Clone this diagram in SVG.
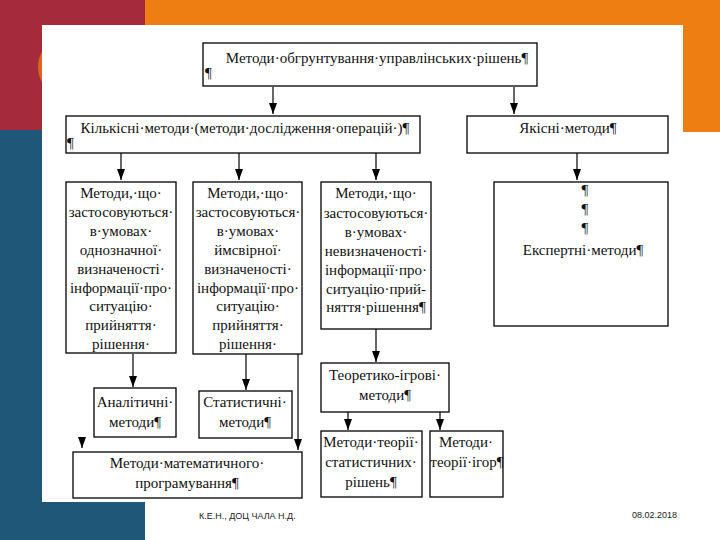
<svg xmlns="http://www.w3.org/2000/svg" width="720" height="540" viewBox="0 0 720 540">
<style>
.box{fill:#fff;stroke:#000;stroke-width:1.3}
.t{font-family:"Liberation Serif","DejaVu Serif",serif;font-size:15px;fill:#111;text-anchor:middle}
.tl{font-family:"Liberation Serif","DejaVu Serif",serif;font-size:15px;fill:#111}
.c{stroke:#000;stroke-width:1.2;fill:none}
.ft{font-family:"Liberation Sans","DejaVu Sans",sans-serif;font-size:9px;fill:#222}
</style>
<defs>
<marker id="ah" markerWidth="11" markerHeight="8" refX="11" refY="4" orient="auto" markerUnits="userSpaceOnUse" viewBox="0 0 11 8">
<path d="M0,0 L11,4 L0,8 Z" fill="#000"/>
</marker>
</defs>
<g id="background">
<rect x="0" y="0" width="720" height="540" fill="#fff"/>
<rect x="0" y="0" width="145" height="130" fill="#A52A3C"/>
<rect x="145" y="0" width="575" height="132" fill="#EE7D12"/>
<rect x="0" y="130" width="145" height="410" fill="#1F5779"/>
<path d="M44,52 A30,30 0 0 0 44,82" fill="none" stroke="#EE7D12" stroke-width="4" opacity="0.7"/>
<rect x="42" y="25" width="641" height="477" fill="#fff"/>
</g>
<g id="connectors">
<path class="c" d="M273,87 V114" marker-end="url(#ah)"/>
<path class="c" d="M514,87 V114" marker-end="url(#ah)"/>
<path class="c" d="M121,153 V180" marker-end="url(#ah)"/>
<path class="c" d="M239,153 V180" marker-end="url(#ah)"/>
<path class="c" d="M376,153 V180" marker-end="url(#ah)"/>
<path class="c" d="M577,153 V180" marker-end="url(#ah)"/>
<path class="c" d="M376,329 V362" marker-end="url(#ah)"/>
<path class="c" d="M348,412 V430" marker-end="url(#ah)"/>
<path class="c" d="M440,412 V430" marker-end="url(#ah)"/>
<path class="c" d="M133,354 V387" marker-end="url(#ah)"/>
<path class="c" d="M246,354 V390" marker-end="url(#ah)"/>
<path class="c" d="M298,354 V450" marker-end="url(#ah)"/>
<path class="c" d="M82,439 V448" marker-end="url(#ah)"/>
</g>
<g id="n-top">
<rect class="box" x="203" y="43" width="334" height="43"/>
<text class="t" x="377" y="63">Методи·обгрунтування·управлінських·рішень¶</text>
<text class="tl" x="205" y="78">¶</text>
</g>
<g id="n-quant">
<rect class="box" x="66" y="116" width="354" height="37"/>
<text class="t" x="245" y="133">Кількісні·методи·(методи·дослідження·операцій·)¶</text>
<text class="tl" x="67" y="148">¶</text>
</g>
<g id="n-qual">
<rect class="box" x="467" y="116" width="201" height="37"/>
<text class="t" x="568" y="133">Якісні·методи¶</text>
</g>
<g id="n-m1">
<rect class="box" x="66" y="182" width="110" height="171"/>
<text class="t" x="121" y="198">Методи,·що·</text>
<text class="t" x="121" y="217">застосовуються·</text>
<text class="t" x="121" y="236">в·умовах·</text>
<text class="t" x="121" y="255">однозначної·</text>
<text class="t" x="121" y="274">визначеності·</text>
<text class="t" x="121" y="293">інформації·про·</text>
<text class="t" x="121" y="311">ситуацію·</text>
<text class="t" x="121" y="330">прийняття·</text>
<text class="t" x="121" y="349">рішення·</text>
</g>
<g id="n-m2">
<rect class="box" x="193" y="182" width="109" height="172"/>
<text class="t" x="248" y="198">Методи,·що·</text>
<text class="t" x="248" y="217">застосовуються·</text>
<text class="t" x="248" y="236">в·умовах·</text>
<text class="t" x="248" y="255">ймсвірної·</text>
<text class="t" x="248" y="274">визначеності·</text>
<text class="t" x="248" y="293">інформації·про·</text>
<text class="t" x="248" y="311">ситуацію·</text>
<text class="t" x="248" y="330">прийняття·</text>
<text class="t" x="248" y="349">рішення·</text>
</g>
<g id="n-m3">
<rect class="box" x="321" y="182" width="110" height="147"/>
<text class="t" x="376" y="198">Методи,·що·</text>
<text class="t" x="376" y="218">застосовуються·</text>
<text class="t" x="376" y="237">в·умовах·</text>
<text class="t" x="376" y="256">невизначеності·</text>
<text class="t" x="376" y="275">інформації·про·</text>
<text class="t" x="376" y="294">ситуацію·прий-</text>
<text class="t" x="376" y="312">няття·рішення¶</text>
</g>
<g id="n-expert">
<rect class="box" x="494" y="182" width="174" height="144"/>
<text class="t" x="585" y="195">¶</text>
<text class="t" x="585" y="214">¶</text>
<text class="t" x="585" y="233">¶</text>
<text class="t" x="583" y="255">Експертні·методи¶</text>
</g>
<g id="n-game">
<rect class="box" x="321" y="363" width="128" height="49"/>
<text class="t" x="385" y="380">Теоретико-ігрові·</text>
<text class="t" x="385" y="400">методи¶</text>
</g>
<g id="n-statdec">
<rect class="box" x="321" y="431" width="101" height="66"/>
<text class="t" x="371" y="447">Методи·теорії·</text>
<text class="t" x="371" y="467">статистичних·</text>
<text class="t" x="371" y="487">рішень¶</text>
</g>
<g id="n-games">
<rect class="box" x="430" y="431" width="73" height="66"/>
<text class="t" x="466" y="447">Методи·</text>
<text class="t" x="467" y="467">теорії·ігор¶</text>
</g>
<g id="n-analytic">
<rect class="box" x="94" y="388" width="82" height="49"/>
<text class="t" x="135" y="407">Аналітичні·</text>
<text class="t" x="135" y="427">методи¶</text>
</g>
<g id="n-stat">
<rect class="box" x="199" y="391" width="93" height="47"/>
<text class="t" x="245" y="407">Статистичні·</text>
<text class="t" x="245" y="427">методи¶</text>
</g>
<g id="n-mathprog">
<rect class="box" x="73" y="452" width="229" height="46"/>
<text class="t" x="187" y="468">Методи·математичного·</text>
<text class="t" x="187" y="488">програмування¶</text>
</g>
<g id="footer">
<text class="ft" x="199" y="519">К.Е.Н., ДОЦ ЧАЛА Н.Д.</text>
<text class="ft" x="632" y="518">08.02.2018</text>
</g>
</svg>
